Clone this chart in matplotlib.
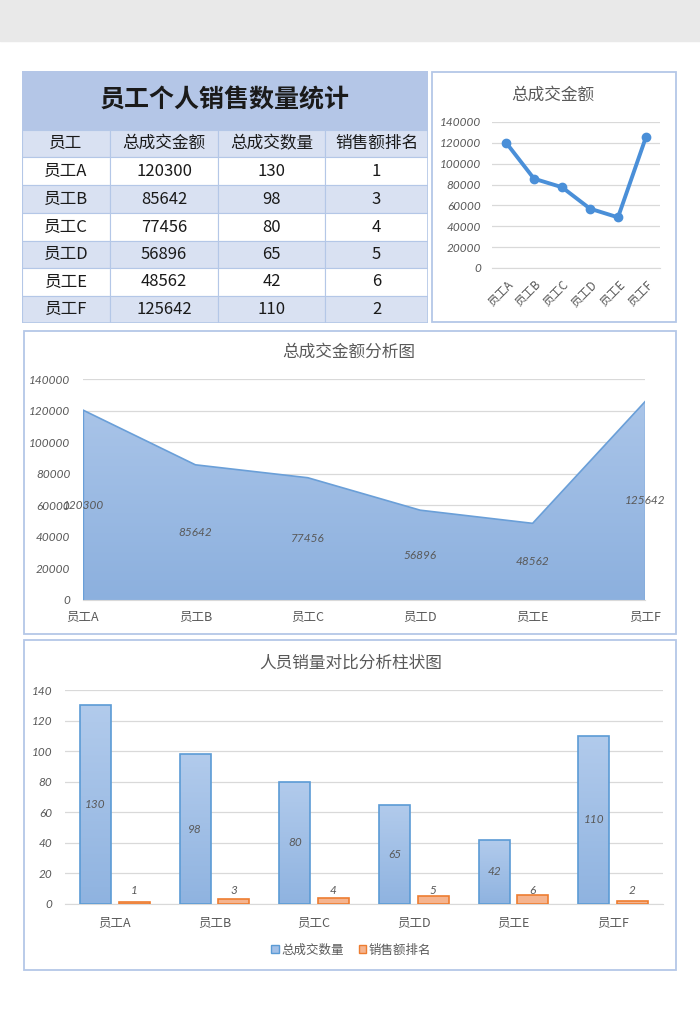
import numpy as np
import matplotlib
matplotlib.use('Agg')
import matplotlib.pyplot as plt
from matplotlib.patches import Rectangle, Patch

plt.rcParams['font.family'] = ['Noto Sans CJK SC', 'DejaVu Sans']

# 数据
employees = ['员工A', '员工B', '员工C', '员工D', '员工E', '员工F']
amounts = [120300, 85642, 77456, 56896, 48562, 125642]
quantities = [130, 98, 80, 65, 42, 110]
ranks = [1, 3, 4, 5, 6, 2]
headers = ['员工', '总成交金额', '总成交数量', '销售额排名']
table_title = '员工个人销售数量统计'
amount_ticks = [0, 20000, 40000, 60000, 80000, 100000, 120000, 140000]
qty_ticks = [0, 20, 40, 60, 80, 100, 120, 140]

W, H = 700, 1030
GRAY = '#595959'
GRID = '#d9d9d9'
BORDER = '#b4c7e7'
NUM_FONT = ['Lato', 'DejaVu Sans']


def rect(x0, y0, x1, y1):
    return [x0 / W, 1 - y1 / H, (x1 - x0) / W, (y1 - y0) / H]


def panel(x0, y0, x1, y1):
    fig.patches.append(Rectangle((x0 / W, 1 - y1 / H), (x1 - x0) / W, (y1 - y0) / H,
                                 transform=fig.transFigure, facecolor='white',
                                 edgecolor=BORDER, lw=1.3, zorder=-1))


def gradient_clip(ax, artist, extent, top, bottom):
    c1 = np.array(matplotlib.colors.to_rgb(top))
    c2 = np.array(matplotlib.colors.to_rgb(bottom))
    t = np.linspace(0, 1, 256)[:, None]
    img = (c1 * (1 - t) + c2 * t)[:, None, :]
    im = ax.imshow(img, extent=extent, aspect='auto', origin='upper', zorder=1)
    if isinstance(artist, matplotlib.patches.Patch):
        im.set_clip_path(artist)
    else:
        im.set_clip_path(artist.get_paths()[0], ax.transData)


def style_axes(ax, yticks):
    ax.set_facecolor('none')
    for s in ['left', 'right', 'top']:
        ax.spines[s].set_visible(False)
    ax.spines['bottom'].set_color(GRID)
    ax.set_yticks(yticks)
    ax.grid(axis='y', color=GRID, lw=0.9)
    ax.set_axisbelow(True)
    ax.tick_params(length=0, colors=GRAY)
    for lab in ax.get_yticklabels():
        lab.set_family(NUM_FONT)
        lab.set_style('italic')
        lab.set_fontsize(8.5)


fig = plt.figure(figsize=(7, 10.3), dpi=100)
fig.patches.append(Rectangle((0, 1 - 41 / H), 1, 41 / H, transform=fig.transFigure,
                             color='#e9e9e9', zorder=-1))

# ---- 表格 ----
ax_t = fig.add_axes(rect(22, 71, 428, 323))
ax_t.set_xlim(22, 428)
ax_t.set_ylim(323, 71)
ax_t.axis('off')
col_edges = [22, 110, 218, 325, 428]
row_edges = [71, 130, 157, 185, 213, 241, 268, 296, 323]
ax_t.add_patch(Rectangle((22, 71), 406, 59, facecolor='#b4c6e7', edgecolor='none'))
ax_t.text(225, 100, table_title, ha='center', va='center', fontsize=18,
          color='#1a1a1a', weight='bold')
rows = [headers] + [[e, str(a), str(q), str(r)] for e, a, q, r in zip(employees, amounts, quantities, ranks)]
for i, row in enumerate(rows):
    y0, y1 = row_edges[i + 1], row_edges[i + 2]
    fc = '#d9e1f2' if i % 2 == 0 else 'white'
    for j, val in enumerate(row):
        x0, x1 = col_edges[j], col_edges[j + 1]
        ax_t.add_patch(Rectangle((x0, y0), x1 - x0, y1 - y0, facecolor=fc,
                                 edgecolor=BORDER, lw=0.8))
        ax_t.text((x0 + x1) / 2, (y0 + y1) / 2, val, ha='center', va='center',
                  fontsize=12, color='#1a1a1a', weight='medium')
ax_t.add_patch(Rectangle((22, 71), 406, 252, facecolor='none', edgecolor=BORDER, lw=1.2))

# ---- 折线图 ----
panel(432, 72, 676, 322)
ax_l = fig.add_axes(rect(492, 122, 660, 268))
x = np.arange(len(employees))
ax_l.plot(x, amounts, color='#4a8fd8', lw=2.8, marker='o', ms=6, zorder=3)
ax_l.set_xlim(-0.5, 5.5)
ax_l.set_ylim(0, 140000)
style_axes(ax_l, amount_ticks)
ax_l.tick_params(axis='y', pad=8)
ax_l.set_xticks(x)
ax_l.set_xticklabels(employees, rotation=45, ha='right', rotation_mode='anchor',
                     fontsize=8.5, color=GRAY)
ax_l.tick_params(axis='x', pad=7)
fig.text(553 / W, 1 - 95 / H, '总成交金额', ha='center', va='center', fontsize=12, color=GRAY)

# ---- 面积图 ----
panel(24, 331, 676, 634)
ax_a = fig.add_axes(rect(83, 379, 645, 600))
fill = ax_a.fill_between(x, amounts, 0, facecolor='none', edgecolor='none')
gradient_clip(ax_a, fill, [0, 5, 0, 140000], '#adc7ea', '#8cb0de')
ax_a.plot(x, amounts, color='#6a9fd8', lw=1.2, zorder=3)
ax_a.vlines([0, 5], 0, [amounts[0], amounts[-1]], color='#6a9fd8', lw=1.0, zorder=3)
ax_a.set_xlim(0, 5)
ax_a.set_ylim(0, 140000)
style_axes(ax_a, amount_ticks)
ax_a.tick_params(axis='y', pad=9)
ax_a.set_xticks(x)
ax_a.set_xticklabels(employees, fontsize=9, color=GRAY)
ax_a.tick_params(axis='x', pad=7)
for xi, v in zip(x, amounts):
    ax_a.text(xi, v / 2, str(v), ha='center', va='center', fontsize=8.5,
              color=GRAY, family=NUM_FONT, style='italic', zorder=4)
fig.text(349 / W, 1 - 352 / H, '总成交金额分析图', ha='center', va='center', fontsize=12, color=GRAY)

# ---- 柱状图 ----
panel(24, 640, 676, 970)
ax_b = fig.add_axes(rect(65, 690, 663, 904))
bw = 0.31
off = 0.193
bars_q = ax_b.bar(x - off, quantities, bw, facecolor='none', edgecolor='#5b9bd5', lw=1.2, zorder=3)
for b in bars_q:
    gradient_clip(ax_b, b, [b.get_x(), b.get_x() + bw, 0, b.get_height()], '#b2cbec', '#8fb3e0')
bars_r = ax_b.bar(x + off, ranks, bw, facecolor='#f5b48f', edgecolor='#ed7d31', lw=1.2, zorder=3)
ax_b.set_xlim(-0.5, 5.5)
ax_b.set_ylim(0, 140)
style_axes(ax_b, qty_ticks)
ax_b.tick_params(axis='y', pad=9)
ax_b.set_xticks(x)
ax_b.set_xticklabels(employees, fontsize=9, color=GRAY)
ax_b.tick_params(axis='x', pad=9)
for xi, q, r in zip(x, quantities, ranks):
    ax_b.text(xi - off, q / 2, str(q), ha='center', va='center', fontsize=8.5,
              color=GRAY, family=NUM_FONT, style='italic', zorder=4)
    ax_b.text(xi + off, 9, str(r), ha='center', va='center', fontsize=8.5,
              color=GRAY, family=NUM_FONT, style='italic', zorder=4)
fig.text(351 / W, 1 - 663 / H, '人员销量对比分析柱状图', ha='center', va='center', fontsize=12, color=GRAY)
handles = [Patch(facecolor='#a3c0e7', edgecolor='#5b9bd5', label='总成交数量'),
           Patch(facecolor='#f5b48f', edgecolor='#ed7d31', label='销售额排名')]
leg = fig.legend(handles=handles, loc='center', bbox_to_anchor=(351 / W, 1 - 950 / H), ncol=2,
                 frameon=False, fontsize=9, handlelength=0.6, handleheight=0.6,
                 handletextpad=0.2, columnspacing=1.2)
for t in leg.get_texts():
    t.set_color(GRAY)

fig.savefig('out.png', dpi=100)
